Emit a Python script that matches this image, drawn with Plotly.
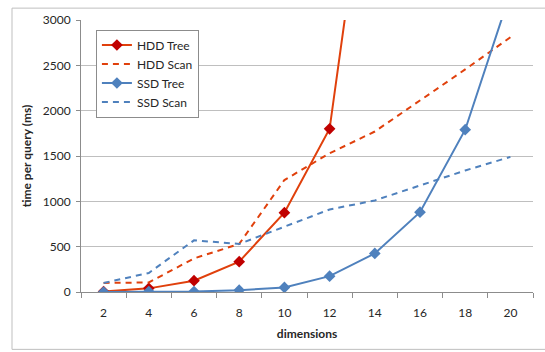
import plotly.graph_objects as go

dims = [2, 4, 6, 8, 10, 12, 14, 16, 18, 20]
hdd_tree = [5, 40, 125, 335, 875, 1800, 5400]
hdd_scan = [100, 105, 370, 530, 1235, 1530, 1770, 2110, 2455, 2810]
ssd_tree = [0, 5, 5, 20, 50, 175, 425, 880, 1790, 3300]
ssd_scan = [100, 210, 570, 530, 720, 910, 1010, 1175, 1340, 1490]
y_ticks = [0, 500, 1000, 1500, 2000, 2500, 3000]

RED_LINE = "#E0400C"
RED_MARK = "#C00000"
BLUE = "#4F81BD"
FONT = "Lato, Open Sans, sans-serif"

fig = go.Figure()
fig.add_trace(go.Scatter(x=dims[:len(hdd_tree)], y=hdd_tree, name="HDD Tree", mode="lines+markers",
                         line=dict(color=RED_LINE, width=2),
                         marker=dict(symbol="diamond", size=9, color=RED_MARK), cliponaxis=True))
fig.add_trace(go.Scatter(x=dims, y=hdd_scan, name="HDD Scan", mode="lines",
                         line=dict(color=RED_LINE, width=2, dash="6px,5px")))
fig.add_trace(go.Scatter(x=dims, y=ssd_tree, name="SSD Tree", mode="lines+markers",
                         line=dict(color=BLUE, width=2),
                         marker=dict(symbol="diamond", size=9, color=BLUE), cliponaxis=True))
fig.add_trace(go.Scatter(x=dims, y=ssd_scan, name="SSD Scan", mode="lines",
                         line=dict(color=BLUE, width=2, dash="6px,5px")))

fig.update_layout(
    width=545, height=352,
    margin=dict(l=81, r=12, t=17, b=60),
    paper_bgcolor="white", plot_bgcolor="white",
    font=dict(family=FONT, size=12, color="#262626"),
    showlegend=True,
    legend=dict(x=0.033, y=0.965, xanchor="left", yanchor="top",
                bgcolor="white", bordercolor="#8C8C8C", borderwidth=1,
                font=dict(size=12, color="#262626"), tracegroupgap=0,
                itemwidth=30),
    xaxis=dict(range=[1, 21], tickvals=dims, ticktext=[str(d) for d in dims],
               ticks="", showgrid=False, showline=True, linecolor="#8C8C8C", linewidth=1,
               zeroline=False, fixedrange=True, ticklabelstandoff=10,
               minor=dict(tick0=1, dtick=2, ticks="outside", ticklen=5, tickcolor="#8C8C8C", showgrid=False),
               title=dict(text="<b>dimensions</b>", font=dict(size=12), standoff=10),
               tickfont=dict(size=12)),
    yaxis=dict(range=[0, 3000], tickvals=y_ticks, ticks="outside", ticklen=4, tickcolor="#8C8C8C",
               showgrid=True, gridcolor="#BFBFBF", gridwidth=1, ticklabelstandoff=3,
               showline=True, linecolor="#8C8C8C", linewidth=1, zeroline=False,
               title=dict(text="<b>time per query (ms)</b>", font=dict(size=12), standoff=8),
               tickfont=dict(size=12)),
)

fig.add_shape(type="rect", xref="paper", yref="paper",
              x0=(12 - 81) / 452, x1=(560 - 81) / 452,
              y0=(292 - 350) / 275, y1=(292 - 5) / 275,
              line=dict(color="#BFBFBF", width=1), fillcolor="rgba(0,0,0,0)", layer="below")

fig.write_html("out.html")
